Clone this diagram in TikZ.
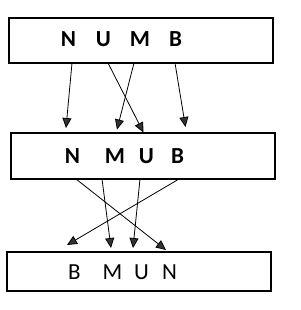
\documentclass[tikz,border=0pt]{standalone}
\usepackage{fontspec}
\setmainfont{Carlito}
\usetikzlibrary{arrows.meta}
\begin{document}
\begin{tikzpicture}[x=1pt,y=-1pt,
  box/.style={draw,line width=1.5pt,minimum width=264pt,inner sep=0pt},
  lbl/.style={inner sep=0pt,font=\fontsize{23}{23}\selectfont\bfseries},
  lblb/.style={inner sep=0pt,font=\fontsize{23}{23}\selectfont},
  conn/.style={line width=0.8pt,-{Triangle[length=10pt,width=9pt,fill=black!80]}}]
\useasboundingbox (0,0) rectangle (300,310);
\node[box,minimum height=45pt] (b1) at (141,40.5) {};
\node[box,minimum height=46pt] (b2) at (143,156) {};
\node[box,minimum height=39pt] (b3) at (139,271.5) {};
% top row
\node[lbl] (n1) at (68.5,39) {N};
\node[lbl] (u1) at (103.5,39) {U};
\node[lbl] (m1) at (140,39) {M};
\node[lbl] (bb1) at (175.5,39) {B};
% middle row
\node[lbl] (n2) at (72.5,156) {N};
\node[lbl] (m2) at (115,156) {M};
\node[lbl] (u2) at (146.5,156) {U};
\node[lbl] (bb2) at (177.5,156) {B};
% bottom row
\node[lblb] (bb3) at (74.5,272) {B};
\node[lblb] (m3) at (112.5,272) {M};
\node[lblb] (u3) at (141.5,272) {U};
\node[lblb] (n3) at (169.5,272) {N};
% connector ends
\coordinate (s1) at (72,63);
\coordinate (s2) at (108,63);
\coordinate (s3) at (134,63);
\coordinate (s4) at (175,63);
\coordinate (e1) at (66,128);
\coordinate (e2) at (143.5,132.5);
\coordinate (e3) at (117,129.5);
\coordinate (e4) at (185.5,127);
\coordinate (t1) at (76,179);
\coordinate (t2) at (102,179);
\coordinate (t3) at (140,179);
\coordinate (t4) at (179,179);
\coordinate (f1) at (166,250);
\coordinate (f2) at (111,248);
\coordinate (f3) at (133,248);
\coordinate (f4) at (67,245);
\draw[conn] (s1) -- (e1);
\draw[conn] (s2) -- (e2);
\draw[conn] (s3) -- (e3);
\draw[conn] (s4) -- (e4);
\draw[conn] (t1) -- (f1);
\draw[conn] (t2) -- (f2);
\draw[conn] (t3) -- (f3);
\draw[conn] (t4) -- (f4);
\end{tikzpicture}
\end{document}
